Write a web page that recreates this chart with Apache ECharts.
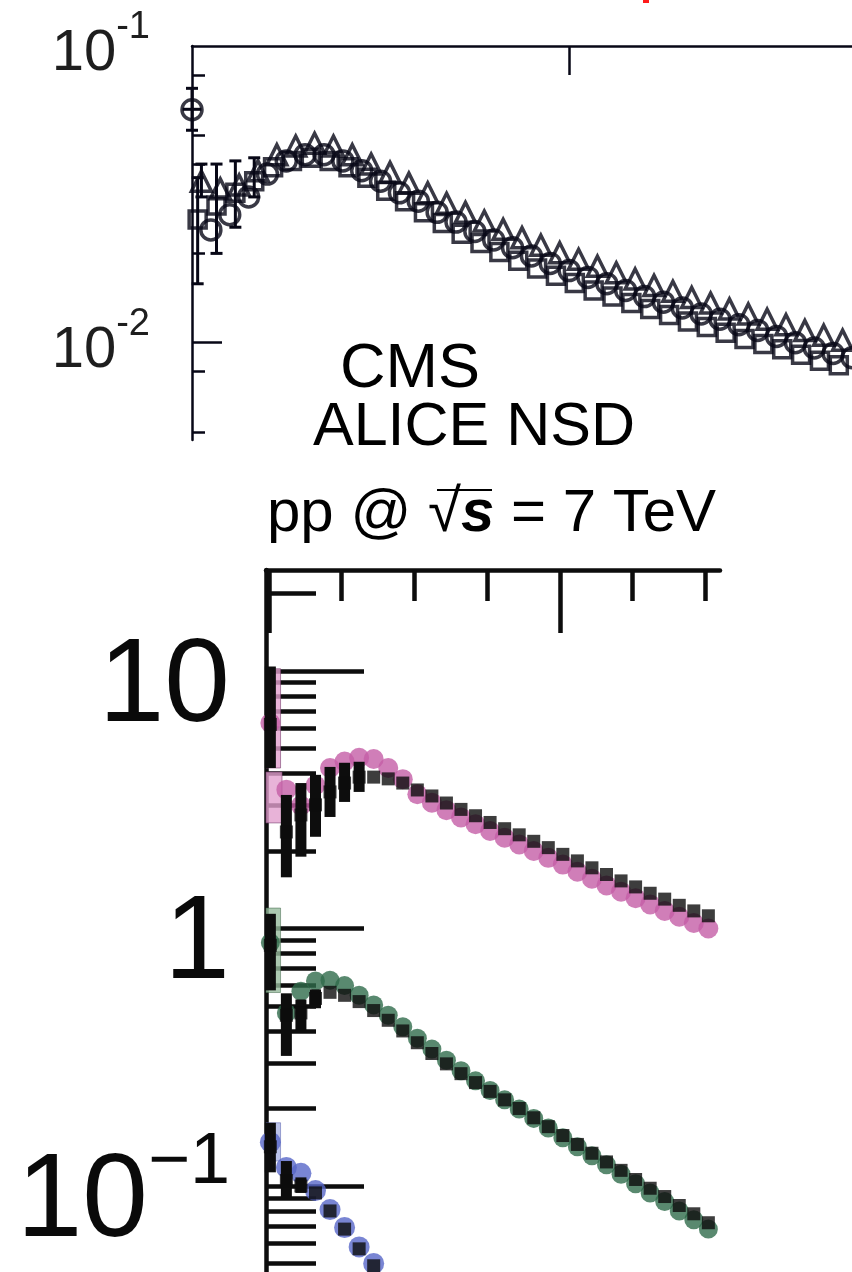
<!DOCTYPE html>
<html>
<head>
<meta charset="utf-8">
<script src="https://cdn.jsdelivr.net/npm/echarts@6/dist/echarts.min.js"></script>
<style>
  html, body { margin: 0; padding: 0; background: #ffffff; }
  #chart { width: 852px; height: 1272px; }
</style>
</head>
<body>
<div id="chart"></div>
<script>
// ---------- upper panel: several overlapping open-marker data sets ----------
const upperCircleX = [0.00,0.05,0.10,0.15,0.20,0.25,0.30,0.35,0.40,0.45,0.50,0.55,0.60,0.65,0.70,0.75,0.80,0.85,0.90,0.95,1.00,1.05,1.10,1.15,1.20,1.25,1.30,1.35,1.40,1.45,1.50,1.55,1.60,1.65,1.70,1.75];
const upperCircleY = [0.061,0.024,0.027,0.031,0.037,0.041,0.043,0.043,0.041,0.038,0.035,0.032,0.030,0.0275,0.0255,0.0237,0.0222,0.0209,0.0196,0.0185,0.0175,0.0166,0.0158,0.0150,0.0143,0.0137,0.0131,0.0125,0.0120,0.0115,0.0110,0.0105,0.0100,0.0096,0.0092,0.0089];

const upperTriangleX = [0.025,0.075,0.125,0.175,0.225,0.275,0.325,0.375,0.425,0.475,0.525,0.575,0.625,0.675,0.725,0.775,0.825,0.875,0.925,0.975,1.025,1.075,1.125,1.175,1.225,1.275,1.325,1.375,1.425,1.475,1.525,1.575,1.625,1.675,1.725];
const upperTriangleY = [0.035,0.033,0.034,0.038,0.043,0.046,0.047,0.046,0.043,0.040,0.0375,0.0345,0.032,0.0295,0.0275,0.0257,0.0241,0.0226,0.0213,0.0201,0.0191,0.0181,0.0172,0.0164,0.0156,0.0149,0.0142,0.0136,0.0130,0.0125,0.0120,0.0115,0.0110,0.0106,0.0102];

const upperSquareX = [0.015,0.065,0.115,0.165,0.215,0.265,0.315,0.365,0.415,0.465,0.515,0.565,0.615,0.665,0.715,0.765,0.815,0.865,0.915,0.965,1.015,1.065,1.115,1.165,1.215,1.265,1.315,1.365,1.415,1.465,1.515,1.565,1.615,1.665,1.715];
const upperSquareY = [0.026,0.029,0.032,0.035,0.039,0.041,0.042,0.041,0.039,0.036,0.0325,0.030,0.0275,0.0253,0.0233,0.0217,0.0202,0.0189,0.0178,0.0168,0.0159,0.0150,0.0143,0.0136,0.0130,0.0124,0.0118,0.0113,0.0108,0.0103,0.0099,0.0095,0.0091,0.0087,0.0084];

// error bars of the lowest-pT points: [x, low, high, half-width of horizontal bar]
const upperErrX    = [0.000, 0.015, 0.065, 0.115, 0.165, 0.025];
const upperErrLow  = [0.052, 0.0158, 0.020, 0.0245, 0.031, 0.031];
const upperErrHigh = [0.072, 0.036, 0.040, 0.041, 0.042, 0.040];
const upperErrXw   = [0.025, 0, 0, 0, 0, 0];

const upperMajorTicks = [0.01];
const upperMinorTicks = [0.08, 0.05, 0.04, 0.02, 0.008, 0.005];
const upperLabelTicks = [0.1, 0.01];
const upperXMajor = [1];

// ---------- lower panel: three spectra, coloured circles with black squares ----------
const lowerX = [0.005,0.06,0.11,0.16,0.21,0.26,0.31,0.36,0.41,0.46,0.51,0.56,0.61,0.66,0.71,0.76,0.81,0.86,0.91,0.96,1.01,1.06,1.11,1.16,1.21,1.26,1.31,1.36,1.41,1.46,1.51,1.56];

const aliceTop = [6.28,3.46,3.0,3.6,4.2,4.45,4.6,4.55,4.2,3.8,3.32,3.08,2.88,2.70,2.54,2.39,2.25,2.12,2.00,1.88,1.77,1.66,1.56,1.47,1.39,1.31,1.24,1.17,1.11,1.05,1.00,0.95];
const cmsTop   = [6.2,2.37,2.76,3.02,3.39,3.67,3.87,3.87,3.81,3.67,3.45,3.27,3.07,2.90,2.74,2.58,2.44,2.31,2.18,2.06,1.94,1.83,1.72,1.62,1.53,1.45,1.37,1.30,1.23,1.17,1.12,1.07];
const cmsTopLow  = [4.2,1.58,1.9,2.27,2.71,3.1,3.39];
const cmsTopHigh = [10.4,3.3,3.67,3.95,4.24,4.4,4.44];

const aliceMid = [0.88,0.47,0.57,0.625,0.63,0.60,0.55,0.505,0.46,0.415,0.375,0.34,0.308,0.28,0.256,0.235,0.216,0.199,0.183,0.168,0.154,0.142,0.131,0.121,0.111,0.102,0.094,0.087,0.080,0.074,0.068,0.063];
const cmsMid   = [0.86,0.46,0.47,0.535,0.565,0.55,0.52,0.48,0.44,0.40,0.36,0.327,0.298,0.273,0.252,0.233,0.216,0.200,0.184,0.170,0.157,0.145,0.134,0.124,0.115,0.106,0.098,0.091,0.084,0.078,0.072,0.067];
const cmsMidLow  = [0.575,0.32,0.40,0.49];
const cmsMidHigh = [1.14,0.56,0.53,0.58];

const aliceLow = [0.148,0.118,0.112,0.096,0.081,0.069,0.058,0.050,0.043];
const cmsLow   = [0.142,0.105,0.10,0.094,0.080,0.068,0.057,0.049,0.042];
const cmsLowLow  = [0.113,0.09,0.094];
const cmsLowHigh = [0.176,0.125,0.108];

// systematic boxes of the first bins: [x0, x1, low, high]
const boxesTop = [[-0.01,0.04,4.2,10.2],[-0.01,0.045,2.57,4.05]];
const boxesMid = [[-0.01,0.04,0.564,1.2]];
const boxesLow = [[-0.01,0.04,0.125,0.176]];

const lowerYMajor = [0.1, 1, 10];
const lowerYMinor = [0.05,0.06,0.07,0.08,0.09,0.2,0.3,0.4,0.5,0.6,0.7,0.8,0.9,2,3,4,5,6,7,8,9,20];
const lowerXMajor = [0, 1];
const lowerXMinor = [0.25, 0.5, 0.75, 1.25, 1.5];

// ---------- helpers ----------
const FONT = 'Liberation Sans';
const L = Math.log10;
const pts = (xs, ys) => ys.map((y, i) => [xs[i], L(y)]);
const errs = (xs, lo, hi) => lo.map((v, i) => [xs[i], L(v), L(hi[i])]);
const boxes = b => b.map(r => [r[0], r[1], L(r[2]), L(r[3])]);

const INK = '#070716';
const BLACK = '#0d0d0d';
const C_TOP = '#c45ea6', C_TOP_BOX = 'rgba(226,160,206,0.8)';
const C_MID = '#2f6b4b', C_MID_BOX = 'rgba(150,186,156,0.8)';
const C_LOW = '#5766c8', C_LOW_BOX = 'rgba(170,180,228,0.8)';

function thinErrorBar(params, api) {
  const x = api.value(0), lo = api.value(1), hi = api.value(2), xw = api.value(3);
  const a = api.coord([x, lo]), b = api.coord([x, hi]);
  const cap = 6;
  const st = { stroke: INK, lineWidth: 3 };
  const children = [
    { type: 'line', shape: { x1: a[0], y1: a[1], x2: b[0], y2: b[1] }, style: st },
    { type: 'line', shape: { x1: a[0] - cap, y1: a[1], x2: a[0] + cap, y2: a[1] }, style: st },
    { type: 'line', shape: { x1: b[0] - cap, y1: b[1], x2: b[0] + cap, y2: b[1] }, style: st }
  ];
  if (xw > 0) {
    const mid = (lo + hi) / 2;
    const l = api.coord([x - xw, mid]), r = api.coord([x + xw, mid]);
    children.push({ type: 'line', shape: { x1: l[0], y1: l[1], x2: r[0], y2: r[1] }, style: st });
  }
  return { type: 'group', children };
}

function thickErrorBar(width) {
  return function (params, api) {
    const x = api.value(0);
    const a = api.coord([x, api.value(1)]), b = api.coord([x, api.value(2)]);
    return { type: 'rect', shape: { x: a[0] - width / 2, y: b[1], width, height: a[1] - b[1] }, style: { fill: BLACK } };
  };
}

function boxItem(fill, edge) {
  return function (params, api) {
    const a = api.coord([api.value(0), api.value(2)]), b = api.coord([api.value(1), api.value(3)]);
    return { type: 'rect', shape: { x: a[0], y: b[1], width: b[0] - a[0], height: a[1] - b[1] },
             style: { fill, stroke: edge, lineWidth: 1 } };
  };
}

const chart = echarts.init(document.getElementById('chart'), null, { renderer: 'canvas' });

const upperRich = {
  b: { fontSize: 58, fontFamily: FONT, color: '#1e1e1e', padding: [16, 0, 0, 0], verticalAlign: 'bottom' },
  s: { fontSize: 38, fontFamily: FONT, color: '#1e1e1e', verticalAlign: 'top' }
};
const lowerRich = {
  b: { fontSize: 118, fontFamily: FONT, color: '#0a0a0a', padding: [17, 0, 0, 0], verticalAlign: 'bottom' },
  s: { fontSize: 72, fontFamily: FONT, color: '#0a0a0a', verticalAlign: 'top' }
};

const hidden = { show: false };

const option = {
  animation: false,
  backgroundColor: '#ffffff',
  grid: [
    { left: 192, top: 46, width: 660, height: 394 },
    { left: 266, top: 570, width: 454, height: 702 }
  ],
  xAxis: [
    { gridIndex: 0, type: 'value', min: 0, max: 1.75, position: 'top',
      axisLine: { show: true, onZero: false, lineStyle: { color: INK, width: 2.5 } },
      axisTick: { show: true, inside: true, length: 29, customValues: upperXMajor, lineStyle: { color: INK, width: 2.5 } },
      axisLabel: hidden, splitLine: hidden },
    { gridIndex: 1, type: 'value', min: -0.01, max: 1.55, position: 'top',
      axisLine: { show: true, onZero: false, lineStyle: { color: BLACK, width: 4.5 } },
      axisTick: { show: true, inside: true, length: 63, customValues: lowerXMajor, lineStyle: { color: BLACK, width: 4.5 } },
      axisLabel: hidden, splitLine: hidden },
    { gridIndex: 1, type: 'value', min: -0.01, max: 1.55, position: 'top',
      axisLine: { show: false, onZero: false },
      axisTick: { show: true, inside: true, length: 31, customValues: lowerXMinor, lineStyle: { color: BLACK, width: 4.5 } },
      axisLabel: hidden, splitLine: hidden }
  ],
  yAxis: [
    { gridIndex: 0, type: 'value', min: L(0.0047), max: L(0.1), position: 'left',
      axisLine: { show: true, onZero: false, lineStyle: { color: INK, width: 2.5 } },
      axisTick: { show: true, inside: true, length: 30, customValues: upperMajorTicks.map(L), lineStyle: { color: INK, width: 2.5 } },
      axisLabel: { show: true, margin: 42, customValues: upperLabelTicks.map(L),
                   formatter: v => '{b|10}{s|' + Math.round(v) + '}', rich: upperRich },
      splitLine: hidden },
    { gridIndex: 0, type: 'value', min: L(0.0047), max: L(0.1), position: 'left',
      axisLine: { show: false, onZero: false },
      axisTick: { show: true, inside: true, length: 13, customValues: upperMinorTicks.map(L), lineStyle: { color: INK, width: 2.5 } },
      axisLabel: hidden, splitLine: hidden },
    { gridIndex: 1, type: 'value', min: -1.334, max: 1.392, position: 'left',
      axisLine: { show: true, onZero: false, lineStyle: { color: BLACK, width: 4.5 } },
      axisTick: { show: true, inside: true, length: 98, customValues: lowerYMajor.map(L), lineStyle: { color: BLACK, width: 4.5 } },
      axisLabel: { show: true, margin: 36, padding: [18, 0, 0, 0], customValues: lowerYMajor.map(L),
                   formatter: v => {
                     const e = Math.round(v);
                     if (e === 1) return '{b|10}';
                     if (e === 0) return '{b|1}';
                     return '{b|10}{s|\u2212' + (-e) + '}';
                   },
                   rich: lowerRich },
      splitLine: hidden },
    { gridIndex: 1, type: 'value', min: -1.334, max: 1.392, position: 'left',
      axisLine: { show: false, onZero: false },
      axisTick: { show: true, inside: true, length: 50, customValues: lowerYMinor.map(L), lineStyle: { color: BLACK, width: 4.5 } },
      axisLabel: hidden, splitLine: hidden }
  ],
  graphic: [
    { type: 'rect', shape: { x: 643, y: 0, width: 6, height: 3 }, style: { fill: '#ff1a1a' }, z: 100 },
    { type: 'text', x: 340, y: 370, z: 100,
      style: { text: 'CMS', fontSize: 63, fontFamily: FONT, fill: '#000', align: 'left', verticalAlign: 'middle' } },
    { type: 'text', x: 313, y: 428, z: 100,
      style: { text: 'ALICE NSD', fontSize: 61, fontFamily: FONT, fill: '#000', align: 'left', verticalAlign: 'middle' } },
    { type: 'text', x: 267, y: 514, z: 100,
      style: { text: '{a|pp @ }{r|\u221A}{s|s}{a| = 7 TeV}', align: 'left', verticalAlign: 'middle',
               rich: {
                 a: { fontSize: 60, fontFamily: FONT, fill: '#000' },
                 r: { fontSize: 60, fontFamily: FONT, fill: '#000' },
                 s: { fontSize: 60, fontFamily: FONT, fontStyle: 'italic', fontWeight: 'bold', fill: '#000' }
               } } },
    { type: 'line', z: 100, shape: { x1: 437, y1: 490, x2: 492, y2: 490 }, style: { stroke: '#000', lineWidth: 2 } }
  ],
  series: [
    // upper panel
    { type: 'scatter', xAxisIndex: 0, yAxisIndex: 0, symbol: 'rect', symbolSize: 17, silent: true,
      itemStyle: { color: 'rgba(255,255,255,0)', borderColor: INK, borderWidth: 3.5 },
      data: pts(upperSquareX, upperSquareY) },
    { type: 'scatter', xAxisIndex: 0, yAxisIndex: 0, symbol: 'triangle', symbolSize: 20, silent: true,
      itemStyle: { color: 'rgba(255,255,255,0)', borderColor: INK, borderWidth: 3.5 },
      data: pts(upperTriangleX, upperTriangleY) },
    { type: 'scatter', xAxisIndex: 0, yAxisIndex: 0, symbol: 'circle', symbolSize: 20, silent: true,
      itemStyle: { color: 'rgba(255,255,255,0)', borderColor: INK, borderWidth: 3.5 },
      data: pts(upperCircleX, upperCircleY) },
    { type: 'custom', xAxisIndex: 0, yAxisIndex: 0, silent: true, renderItem: thinErrorBar,
      data: upperErrX.map((x, i) => [x, L(upperErrLow[i]), L(upperErrHigh[i]), upperErrXw[i]]) },

    // lower panel: systematic boxes
    { type: 'custom', xAxisIndex: 1, yAxisIndex: 2, silent: true, z: 1, renderItem: boxItem(C_TOP_BOX, 'rgba(120,60,110,0.6)'), data: boxes(boxesTop) },
    { type: 'custom', xAxisIndex: 1, yAxisIndex: 2, silent: true, z: 1, renderItem: boxItem(C_MID_BOX, 'rgba(60,100,70,0.5)'), data: boxes(boxesMid) },
    { type: 'custom', xAxisIndex: 1, yAxisIndex: 2, silent: true, z: 1, renderItem: boxItem(C_LOW_BOX, 'rgba(80,90,170,0.5)'), data: boxes(boxesLow) },

    // lower panel: coloured circles
    { type: 'scatter', xAxisIndex: 1, yAxisIndex: 2, symbol: 'circle', symbolSize: 20, silent: true, z: 2,
      itemStyle: { color: C_TOP }, data: pts(lowerX, aliceTop) },
    { type: 'scatter', xAxisIndex: 1, yAxisIndex: 2, symbol: 'circle', symbolSize: 19, silent: true, z: 2,
      itemStyle: { color: C_MID }, data: pts(lowerX, aliceMid) },
    { type: 'scatter', xAxisIndex: 1, yAxisIndex: 2, symbol: 'circle', symbolSize: 21, silent: true, z: 2,
      itemStyle: { color: C_LOW }, data: pts(lowerX, aliceLow) },

    // lower panel: black squares with error bars
    { type: 'custom', xAxisIndex: 1, yAxisIndex: 2, silent: true, z: 3, renderItem: thickErrorBar(11),
      data: errs(lowerX, cmsTopLow, cmsTopHigh).concat(errs(lowerX, cmsMidLow, cmsMidHigh), errs(lowerX, cmsLowLow, cmsLowHigh)) },
    { type: 'scatter', xAxisIndex: 1, yAxisIndex: 2, symbol: 'rect', symbolSize: 13, silent: true, z: 4,
      itemStyle: { color: BLACK }, data: pts(lowerX, cmsTop) },
    { type: 'scatter', xAxisIndex: 1, yAxisIndex: 2, symbol: 'rect', symbolSize: 13, silent: true, z: 4,
      itemStyle: { color: BLACK }, data: pts(lowerX, cmsMid) },
    { type: 'scatter', xAxisIndex: 1, yAxisIndex: 2, symbol: 'rect', symbolSize: 13, silent: true, z: 4,
      itemStyle: { color: BLACK }, data: pts(lowerX, cmsLow) }
  ]
};

chart.setOption(option);
</script>
</body>
</html>
